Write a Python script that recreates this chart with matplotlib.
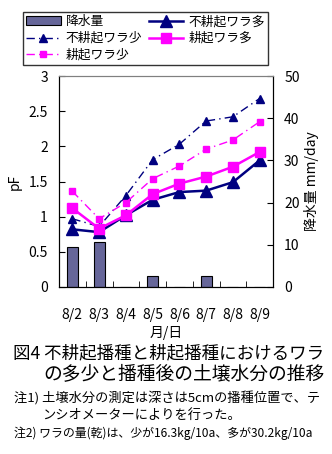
import matplotlib.pyplot as plt
import numpy as np

plt.rcParams['font.family'] = ['Noto Sans CJK JP', 'DejaVu Sans']

dates = ["8/2", "8/3", "8/4", "8/5", "8/6", "8/7", "8/8", "8/9"]
rain = [9.5, 10.7, 0, 2.7, 0, 2.7, 0, 0]
nt_many = [0.82, 0.78, 1.02, 1.24, 1.35, 1.37, 1.49, 1.80]
nt_few = [0.97, 0.86, 1.30, 1.81, 2.03, 2.36, 2.42, 2.68]
t_many = [1.12, 0.83, 1.02, 1.32, 1.47, 1.57, 1.71, 1.92]
t_few = [1.36, 0.97, 1.20, 1.54, 1.72, 1.96, 2.09, 2.35]

navy = "#000080"
pink = "#ff00ff"
barc = "#666699"

fig = plt.figure(figsize=(3.32, 4.54), dpi=100)
W, H = 332, 454
ax = fig.add_axes([59 / W, 1 - 287 / H, (273 - 59) / W, (287 - 76) / H])
ax2 = ax.twinx()
ax.set_zorder(2)
ax.patch.set_visible(False)

x = np.arange(len(dates))
bars = ax2.bar(x, rain, width=0.42, color=barc, edgecolor="black", linewidth=0.8, label="降水量")
ax2.set_ylim(0, 50)
ax2.set_yticks(range(0, 51, 10))

l1, = ax.plot(x, nt_many, "-", color=navy, marker="^", ms=8, lw=1.8, label="不耕起ワラ多")
l2, = ax.plot(x, nt_few, color=navy, ls=(0, (6, 3, 1, 3)), marker="^", ms=5.5, lw=1.0, label="不耕起ワラ少")
l3, = ax.plot(x, t_many, "-", color=pink, marker="s", ms=7.5, lw=1.8, label="耕起ワラ多")
l4, = ax.plot(x, t_few, color=pink, ls=(0, (6, 3, 1, 3)), marker="s", ms=5, lw=1.0, label="耕起ワラ少")

ax.set_xlim(-0.5, 7.5)
ax.set_ylim(0, 3)
ax.set_yticks(np.arange(0, 3.01, 0.5))
ax.set_yticklabels(["0", "0.5", "1", "1.5", "2", "2.5", "3"])
ax.set_xticks(x)
ax.set_xticklabels(dates)
ax.set_xticks(np.arange(0.5, 7, 1), minor=True)
ax.tick_params(axis="x", which="major", length=0, pad=15, labelsize=10)
ax.tick_params(axis="x", which="minor", direction="in", length=4)
ax.tick_params(axis="y", direction="in", length=4, labelsize=10, pad=8)
ax2.tick_params(axis="y", direction="in", length=4, labelsize=10, pad=8)

for a in (ax, ax2):
    a.spines["top"].set_color("#808080")
ax.set_ylabel("pF", fontsize=10, labelpad=5)
ax2.set_ylabel("降水量 mm/day", fontsize=10, labelpad=3)
ax.set_xlabel("月/日", fontsize=10, labelpad=3)

handles = [bars, l2, l4, l1, l3]
leg = fig.legend(handles=handles, labels=[h.get_label() for h in handles],
                 ncol=2, loc="upper left", bbox_to_anchor=(23 / W, 1 - 12 / H),
                 fontsize=9.2, frameon=True, fancybox=False, edgecolor="black",
                 handlelength=2.7, handletextpad=0.4, columnspacing=0.5,
                 borderpad=0.25, labelspacing=0.3, borderaxespad=0)
leg.get_frame().set_linewidth(1.0)

fig.text(13 / W, 1 - 353 / H, "図4 不耕起播種と耕起播種におけるワラ", fontsize=12.6, va="center")
fig.text(43 / W, 1 - 375 / H, "の多少と播種後の土壌水分の推移", fontsize=13.5, va="center")
fig.text(14 / W, 1 - 398 / H, "注1) 土壌水分の測定は深さは5cmの播種位置で、テ", fontsize=9.5, va="center")
fig.text(42 / W, 1 - 415 / H, "ンシオメーターによりを行った。", fontsize=9.5, va="center")
fig.text(14 / W, 1 - 433 / H, "注2) ワラの量(乾)は、少が16.3kg/10a、多が30.2kg/10a", fontsize=8.6, va="center")

fig.savefig("out.png", dpi=100)
